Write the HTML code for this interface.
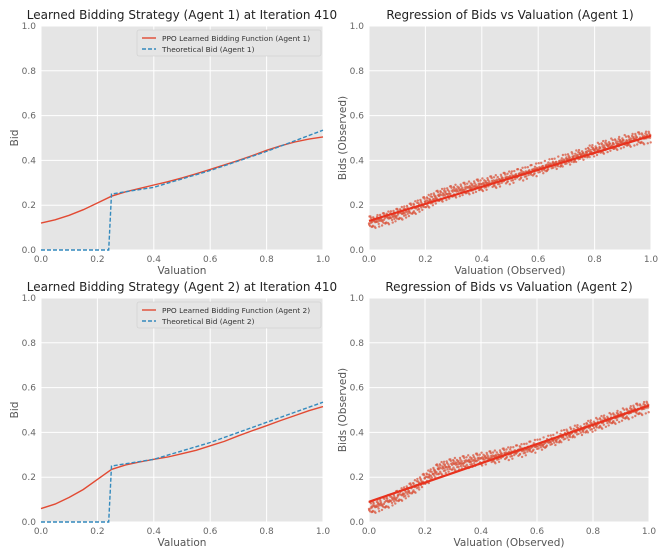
<!DOCTYPE html>
<html><head><meta charset="utf-8"><style>
body{margin:0;background:#fff;font-family:"Liberation Sans","DejaVu Sans",sans-serif}
svg text{font-family:"DejaVu Sans","Liberation Sans",sans-serif}
</style></head><body>
<svg id="fig" width="660" height="552" xmlns="http://www.w3.org/2000/svg"></svg>
<script>
const xTicks=[0,0.2,0.4,0.6,0.8,1.0];
const yTicks=[0,0.2,0.4,0.6,0.8,1.0];
const gridX=[0,0.05,0.1,0.15,0.2,0.25,0.3,0.35,0.4,0.45,0.5,0.55,0.6,0.65,0.7,0.75,0.8,0.85,0.9,0.95,1.0];
const learned1=[0.12,0.135,0.155,0.18,0.21,0.24,0.26,0.275,0.29,0.305,0.322,0.34,0.36,0.38,0.40,0.422,0.445,0.465,0.482,0.495,0.505];
const learned2=[0.06,0.08,0.11,0.145,0.19,0.235,0.255,0.268,0.28,0.29,0.305,0.32,0.34,0.36,0.385,0.408,0.43,0.453,0.475,0.497,0.515];
const theoX=[0,0.24,0.25,0.4,0.6,0.8,1.0];
const theo1=[0,0,0.25,0.28,0.355,0.44,0.535];
const theo2=[0,0,0.25,0.28,0.355,0.445,0.535];
const regLine1=[0.13,0.51];
const regLine2=[0.09,0.52];
const noise=[0.012,-0.018,0.025,-0.006,0.004,-0.022,0.017,-0.011,0.03,-0.003,0.009,-0.026,0.014,-0.015,0.021,0.001,-0.009,0.027,-0.02,0.006,-0.013,0.019,-0.001,0.011,-0.028,0.008,0.023,-0.017,0.002,-0.007,0.016,-0.024,0.013,-0.004,0.028,-0.012,0.005,-0.019,0.01,-0.002,0.007,-0.014,0.018,-0.025,0.003,0.022,-0.008];
const NS='http://www.w3.org/2000/svg';
const svg=document.getElementById('fig');
function el(t,a,p){const e=document.createElementNS(NS,t);for(const k in a)e.setAttribute(k,a[k]);(p||svg).appendChild(e);return e;}
function interp(xs,ys,x){for(let i=0;i<xs.length-1;i++){if(x<=xs[i+1]){const t=(x-xs[i])/(xs[i+1]-xs[i]);return ys[i]+t*(ys[i+1]-ys[i]);}}return ys[ys.length-1];}
function panel(x0,x1,y0,y1,title,xl,yl,nm){
  const g=el('g',{});
  
  
  const sx=v=>x0+v*(x1-x0), sy=v=>y1-v*(y1-y0);
  el('rect',{x:x0,y:y0,width:x1-x0,height:y1-y0,fill:'#e5e5e5'},g);
  xTicks.forEach(t=>{el('line',{x1:sx(t),x2:sx(t),y1:y0,y2:y1,stroke:'#fff','stroke-width':1},g);
    const tx=el('text',{x:sx(t),y:y1+12,'font-size':9,fill:'#666','text-anchor':'middle'},g);tx.textContent=t.toFixed(1);
    });
  yTicks.forEach(t=>{el('line',{x1:x0,x2:x1,y1:sy(t),y2:sy(t),stroke:'#fff','stroke-width':1},g);
    const tx=el('text',{x:x0-5,y:sy(t)+3,'font-size':9,fill:'#666','text-anchor':'end'},g);tx.textContent=t.toFixed(1);
    });
  const tt=el('text',{x:(x0+x1)/2,y:y0-7,'font-size':12,fill:'#222','text-anchor':'middle'},g);tt.textContent=title;
  
  const xt=el('text',{x:(x0+x1)/2,y:y1+24,'font-size':10.5,fill:'#555','text-anchor':'middle'},g);xt.textContent=xl;
  
  const cy=(y0+y1)/2;
  const yt=el('text',{x:0,y:0,'font-size':10.5,fill:'#555','text-anchor':'middle',transform:`translate(${x0-23},${cy}) rotate(-90)`},g);yt.textContent=yl;
  
  return {g,sx,sy};
}
function line(P,xs,ys,color,dash,nm,w){
  const d=xs.map((x,i)=>(i?'L':'M')+P.sx(x).toFixed(1)+','+P.sy(ys[i]).toFixed(1)).join('');
  const p=el('path',{d,fill:'none',stroke:color,'stroke-width':w||1.4,'stroke-dasharray':dash||'none'},P.g);
  
}
function legend(P,x,y,l1,l2){
  const lg=el('g',{},P.g);
  
  el('rect',{x,y,width:184,height:26,fill:'#e5e5e5',stroke:'#ccc','stroke-width':0.6,rx:2},lg);
  el('line',{x1:x+5,x2:x+19,y1:y+8,y2:y+8,stroke:'#e24a33','stroke-width':1.4},lg);
  el('line',{x1:x+5,x2:x+19,y1:y+19,y2:y+19,stroke:'#348abd','stroke-width':1.4,'stroke-dasharray':'4,2'},lg);
  const a=el('text',{x:x+25,y:y+11,'font-size':7.4,fill:'#333'},lg);a.textContent=l1;
  
  const b=el('text',{x:x+25,y:y+22,'font-size':7.4,fill:'#333'},lg);b.textContent=l2;
  
}
function scatter(P,curve,reg,nm){
  const sg=el('g',{},P.g);
  
  const N=800;
  for(let i=0;i<N;i++){
    const x=((i*0.6180339)%1);
    const y=interp(gridX,curve,x)+0.8*noise[i%noise.length]+0.5*noise[(i*13+5)%noise.length];
    const c=el('circle',{cx:P.sx(x).toFixed(1),cy:P.sy(y).toFixed(1),r:1.2,fill:'#d9553d','fill-opacity':0.75},sg);
    
  }
  line(P,[0,1],reg,'#e8321e',null,'regression-line',2.2);
}
const A=panel(41,323,26,250,'Learned Bidding Strategy (Agent 1) at Iteration 410','Valuation','Bid','panel-agent1-strategy');
line(A,gridX,learned1,'#e24a33',null,'ppo-learned-line');
line(A,theoX,theo1,'#348abd','4,2','theoretical-line');
legend(A,137,30,'PPO Learned Bidding Function (Agent 1)','Theoretical Bid (Agent 1)');
const B=panel(369,651,26,250,'Regression of Bids vs Valuation (Agent 1)','Valuation (Observed)','Bids (Observed)','panel-agent1-regression');
scatter(B,learned1,regLine1,'scatter-agent1');
const C=panel(41,323,298,522,'Learned Bidding Strategy (Agent 2) at Iteration 410','Valuation','Bid','panel-agent2-strategy');
line(C,gridX,learned2,'#e24a33',null,'ppo-learned-line');
line(C,theoX,theo2,'#348abd','4,2','theoretical-line');
legend(C,137,302,'PPO Learned Bidding Function (Agent 2)','Theoretical Bid (Agent 2)');
const D=panel(369,649,298,522,'Regression of Bids vs Valuation (Agent 2)','Valuation (Observed)','Bids (Observed)','panel-agent2-regression');
scatter(D,learned2,regLine2,'scatter-agent2');
</script>
</body></html>
